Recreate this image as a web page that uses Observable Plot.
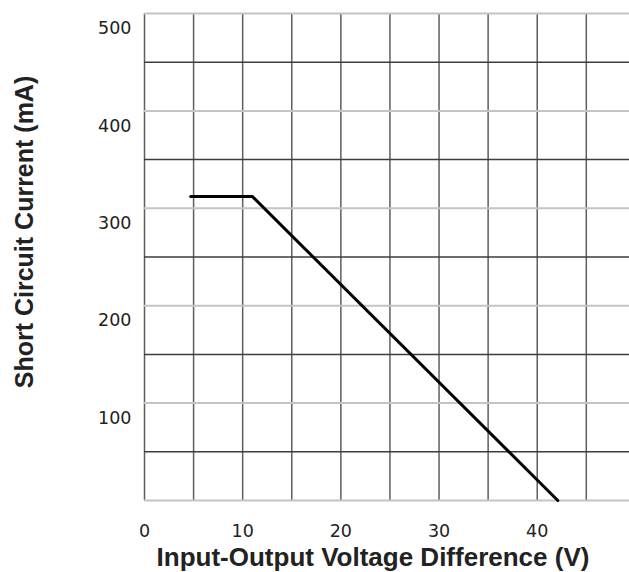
<!DOCTYPE html>
<html><head><meta charset="utf-8">
<script src="https://cdn.jsdelivr.net/npm/d3@7"></script>
<script src="https://cdn.jsdelivr.net/npm/@observablehq/plot@0.6"></script>
<style>
html,body{margin:0;padding:0;background:#fff;}
</style></head><body><div id="chart"></div>
<script>
// Data
const voltage = [4.7, 11.0, 42.1];       // V
const current = [312, 312, 0];           // mA
const xTicks = [0, 10, 20, 30, 40];
const yTicks = [100, 200, 300, 400, 500];
const xGrid = [0, 5, 10, 15, 20, 25, 30, 35, 40, 45];
const yGrid = [0, 50, 100, 150, 200, 250, 300, 350, 400, 450, 500];
const xTitle = "Input-Output Voltage Difference (V)";
const yTitle = "Short Circuit Current (mA)";

const curve = voltage.map((v, i) => ({v, c: current[i]}));
const titleFont = "'Liberation Sans', Arial, Helvetica, sans-serif";

const chart = Plot.plot({
  width: 629, height: 572,
  marginLeft: 144, marginRight: 0, marginTop: 13, marginBottom: 72,
  x: {domain: [0, 49.4]},
  y: {domain: [0, 500]},
  style: {background: "#fff", fontFamily: "'DejaVu Sans', sans-serif", fontSize: "17px", color: "#222"},
  marks: [
    Plot.ruleX(xGrid, {x: d => d, stroke: "#5e5e5e", strokeWidth: 1.5}),
    Plot.ruleY(yGrid.filter(d => d % 100 === 0), {y: d => d, stroke: "#c4c4c4", strokeWidth: 2}),
    Plot.ruleY(yGrid.filter(d => d % 100 !== 0), {y: d => d, stroke: "#3c3c3c", strokeWidth: 1.5}),
    Plot.axisX(xTicks, {tickSize: 0, tickPadding: 24, label: null, fill: "#222", fontSize: 17.5}),
    Plot.axisY(yTicks, {tickSize: 0, tickPadding: 13, dy: 15, label: null, fill: "#222", fontSize: 17.5}),
    Plot.line(curve, {x: "v", y: "c", stroke: "#000", strokeWidth: 3, strokeLinejoin: "miter"}),
    Plot.text([xTitle], {frameAnchor: "bottom", text: d => d, textAnchor: "middle", dx: -14, dy: 57, lineAnchor: "middle",
      fontFamily: titleFont, fontWeight: "bold", fontSize: 26, fill: "#222"}),
    Plot.text([yTitle], {frameAnchor: "left", text: d => d, textAnchor: "middle", rotate: -90, dx: -120, dy: -25, lineAnchor: "middle",
      fontFamily: titleFont, fontWeight: "bold", fontSize: 25, fill: "#222"})
  ]
});
document.getElementById("chart").appendChild(chart);
</script>
</body></html>
